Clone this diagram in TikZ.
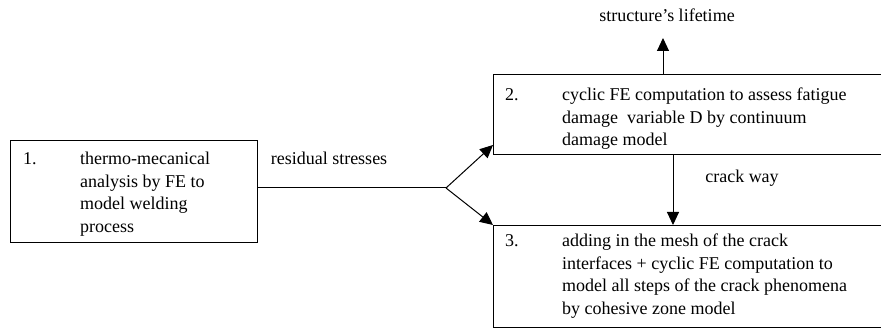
\documentclass[tikz,border=0pt]{standalone}
\usepackage{fontspec}
\setmainfont{Liberation Serif}
\usetikzlibrary{arrows.meta}

\begin{document}
\begin{tikzpicture}[x=1pt,y=1pt]
    \tikzstyle{every node}=[font=\fontsize{18}{22.5}\selectfont]
    \tikzstyle{stage}=[draw,line width=1pt,rectangle,anchor=south west,inner sep=0pt]
    \tikzstyle{inside}=[anchor=north west,inner sep=0pt]
    \tikzstyle{flow}=[line width=1pt,-{Triangle[length=13pt,width=12pt]}]
    \useasboundingbox (0,0) rectangle (881,329);
    % the three stages
    \node[stage,minimum width=247pt,minimum height=102pt] (s1) at (10,86) {};
    \node[stage,minimum width=400pt,minimum height=80pt] (s2) at (493,174) {};
    \node[stage,minimum width=400pt,minimum height=102pt] (s3) at (493,1) {};
    \node[inside] (t1) at ([shift={(13pt,-9pt)}]s1.north west)
        {\begin{tabular}{@{}p{57pt}@{}l@{}}
        1. & thermo-mecanical\\ & analysis by FE to\\ & model welding\\ & process
        \end{tabular}};
    \node[inside] (t2) at ([shift={(12pt,-11pt)}]s2.north west)
        {\begin{tabular}{@{}p{57pt}@{}l@{}}
        2. & cyclic FE computation to assess fatigue\\ & damage\ \ variable D by continuum\\ & damage model
        \end{tabular}};
    \node[inside] (t3) at ([shift={(12pt,-6pt)}]s3.north west)
        {\begin{tabular}{@{}p{57pt}@{}l@{}}
        3. & adding in the mesh of the crack\\ & interfaces + cyclic FE computation to\\ & model all steps of the crack phenomena\\ & by cohesive zone model
        \end{tabular}};
    % labels
    \node (stress) at (329,171) {residual stresses};
    \node (life) at (667,314) {structure's lifetime};
    \node (way) at (742,151) {crack way};
    % connectors
    \coordinate (fork) at (446,141);
    \coordinate (up) at (663,291);
    \coordinate (drop) at (673,0);
    \draw[line width=1pt] (s1.east |- fork) -- (fork);
    \draw[flow] (fork) -- ([yshift=10pt]s2.south west);
    \draw[flow] (fork) -- (s3.north west);
    \draw[flow] (s2.north -| up) -- (up);
    \draw[flow] (s2.south -| drop) -- (s3.north -| drop);
\end{tikzpicture}
\end{document}
